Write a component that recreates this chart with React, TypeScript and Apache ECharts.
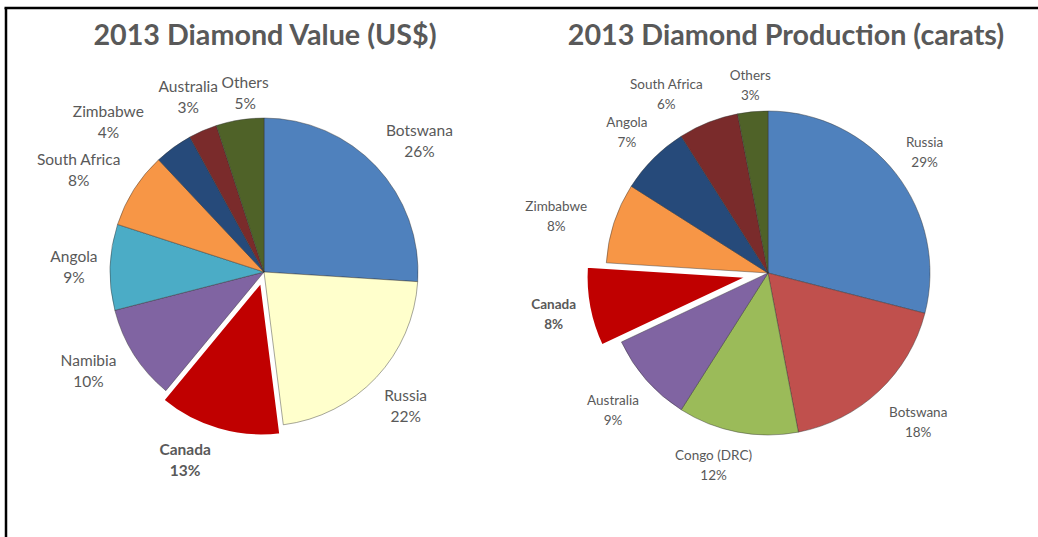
import React, { useEffect, useRef } from "react";
import * as echarts from "echarts";

// ---- Data ----
const valueTitle = "2013 Diamond Value (US$)";
const valueCountries = ["Botswana", "Russia", "Canada", "Namibia", "Angola", "South Africa", "Zimbabwe", "Australia", "Others"];
const valueShares = [26, 22, 13, 10, 9, 8, 4, 3, 5];
const valueColors = ["#4F81BD", "#FFFFCC", "#C00000", "#8064A2", "#4BACC6", "#F79646", "#264A7A", "#7A2B2B", "#4F6228"];

const prodTitle = "2013 Diamond Production (carats)";
const prodCountries = ["Russia", "Botswana", "Congo (DRC)", "Australia", "Canada", "Zimbabwe", "Angola", "South Africa", "Others"];
const prodShares = [29, 18, 12, 9, 8, 8, 7, 6, 3];
const prodColors = ["#4F81BD", "#C0504D", "#9BBB59", "#8064A2", "#C00000", "#F79646", "#264A7A", "#7A2B2B", "#4F6228"];

const highlighted = "Canada";

const FONT = "Lato, 'Open Sans', sans-serif";
const TEXT_COLOR = "#595959";
const NONE = "rgba(0,0,0,0)";

function midAngles(values: number[]): number[] {
  const total = values.reduce((a, b) => a + b, 0);
  let acc = 0;
  return values.map((v) => {
    const m = ((acc + v / 2) / total) * 360;
    acc += v;
    return m;
  });
}

type Nudge = { a?: number; g?: number };

function makePies(cfg: {
  names: string[];
  values: number[];
  colors: string[];
  center: [number, number];
  radius: number;
  explode: number;
  fontSize: number;
  lineHeight: number;
  gap: number;
  nudges: Record<string, Nudge>;
}) {
  const { names, values, colors, center, radius, explode, fontSize, lineHeight, gap, nudges } = cfg;
  const mids = midAngles(values);
  const hi = names.indexOf(highlighted);
  const thHi = (mids[hi] * Math.PI) / 180;
  const overlayCenter: [number, number] = [
    center[0] + Math.sin(thHi) * explode,
    center[1] - Math.cos(thHi) * explode,
  ];

  const label = {
    show: true,
    position: "outside",
    formatter: (p: any) => {
      const k = p.name === highlighted ? "b" : "a";
      return `{${k}|${p.name}}\n{${k}|${p.value}%}`;
    },
    rich: {
      a: { align: "center", fontFamily: FONT, fontSize, lineHeight, color: TEXT_COLOR },
      b: { align: "center", fontFamily: FONT, fontSize, lineHeight, color: TEXT_COLOR, fontWeight: "bold" },
    },
  };

  const layoutFor = (c: [number, number]) => (p: any) => {
    const i = p.dataIndex;
    if (!p.labelRect) return {};
    const nud = nudges[names[i]] || {};
    const th = ((mids[i] + (nud.a || 0)) * Math.PI) / 180;
    const ux = Math.sin(th);
    const uy = -Math.cos(th);
    const w = p.labelRect.width;
    const h = p.labelRect.height;
    const ext = (Math.abs(ux) * w) / 2 + (Math.abs(uy) * h) / 2;
    const d = radius + gap + (nud.g || 0) + ext;
    return { x: c[0] + ux * d, y: c[1] + uy * d, align: "center", verticalAlign: "middle" };
  };

  const common = {
    type: "pie",
    radius,
    startAngle: 90,
    clockwise: true,
    avoidLabelOverlap: false,
    silent: true,
    emphasis: { disabled: true },
    labelLine: { show: false },
    label,
  };

  const base = {
    ...common,
    center,
    data: names.map((n, i) => {
      const isHi = n === highlighted;
      return {
        name: n,
        value: values[i],
        itemStyle: isHi
          ? { color: NONE, borderWidth: 0 }
          : { color: colors[i], borderColor: "rgba(50,50,50,0.55)", borderWidth: 0.8 },
        label: isHi ? { show: false } : undefined,
      };
    }),
    labelLayout: layoutFor(center),
  };

  const overlay = {
    ...common,
    center: overlayCenter,
    data: names.map((n, i) => {
      const isHi = n === highlighted;
      return {
        name: n,
        value: values[i],
        itemStyle: isHi
          ? { color: colors[i], borderColor: "#ffffff", borderWidth: 2.5 }
          : { color: NONE, borderWidth: 0 },
        label: isHi ? undefined : { show: false },
      };
    }),
    labelLayout: layoutFor(overlayCenter),
  };

  return [base, overlay];
}

export default function App() {
  const ref = useRef<HTMLDivElement>(null);
  useEffect(() => {
    if (!ref.current) return;
    const chart = echarts.init(ref.current, undefined, { renderer: "svg" });
    const titleStyle = { fontFamily: FONT, fontWeight: "bold", fontSize: 28.7, color: TEXT_COLOR };
    chart.setOption({
      animation: false,
      backgroundColor: "#ffffff",
      title: [
        { text: valueTitle, left: 265, top: 19, padding: 0, textAlign: "center", textStyle: titleStyle },
        { text: prodTitle, left: 786, top: 19, padding: 0, textAlign: "center", textStyle: titleStyle },
      ],
      graphic: [
        { type: "line", shape: { x1: 4.5, y1: 8, x2: 1038, y2: 8 }, style: { stroke: "#000", lineWidth: 2.5 } },
        { type: "line", shape: { x1: 6, y1: 8, x2: 6, y2: 537 }, style: { stroke: "#000", lineWidth: 2.5 } },
      ],
      series: [
        ...makePies({
          names: valueCountries,
          values: valueShares,
          colors: valueColors,
          center: [264, 272],
          radius: 154,
          explode: 10,
          fontSize: 15.5,
          lineHeight: 21,
          gap: 12,
          nudges: {
            Zimbabwe: { a: -10, g: 12 },
            Botswana: { a: 3 },
            Others: { a: 3, g: -6 },
            Australia: { g: -4 },
            Canada: { a: 7 },
            Namibia: { a: 3, g: 2 },
            "South Africa": { a: -3.5 },
          },
        }),
        ...makePies({
          names: prodCountries,
          values: prodShares,
          colors: prodColors,
          center: [768, 273],
          radius: 162,
          explode: 20,
          fontSize: 13.5,
          lineHeight: 20,
          gap: 11,
          nudges: {
            Zimbabwe: { a: -3, g: 12 },
            "South Africa": { a: -8 },
            "Congo (DRC)": { a: 5 },
            Botswana: { a: -2, g: 6 },
            Australia: { g: 3 },
            Others: { g: -3 },
          },
        }),
      ],
    });
    return () => chart.dispose();
  }, []);
  return (
    <div
      ref={ref}
      style={{ position: "fixed", left: 0, top: 0, width: 1038, height: 537, background: "#fff" }}
    />
  );
}
